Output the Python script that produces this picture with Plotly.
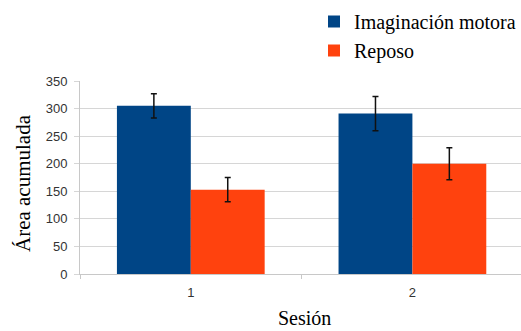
import plotly.graph_objects as go

# Session labels and mean accumulated area per condition, with error margins
sessions = ["1", "2"]
motor_imagery = [305, 291]
motor_imagery_err = [22, 31]
rest = [153, 200]
rest_err = [22, 29]

y_ticks = [0, 50, 100, 150, 200, 250, 300, 350]

BLUE = "#004586"
ORANGE = "#ff420e"
GRID = "#d6d6d6"
SERIF = "Liberation Serif, Times New Roman, serif"
SANS = "Liberation Sans, Arial, sans-serif"

fig = go.Figure()
fig.add_trace(go.Bar(
    name="Imaginación motora", x=sessions, y=motor_imagery,
    marker=dict(color=BLUE, line=dict(width=0)),
    error_y=dict(type="data", array=motor_imagery_err, color="#111111",
                 thickness=1.5, width=3),
))
fig.add_trace(go.Bar(
    name="Reposo", x=sessions, y=rest,
    marker=dict(color=ORANGE, line=dict(width=0)),
    error_y=dict(type="data", array=rest_err, color="#111111",
                 thickness=1.5, width=3),
))

W, H = 521, 331
ML, MR, MT, MB = 80, 0, 81, 57
pw = W - ML - MR
ph = H - MT - MB

fig.update_layout(
    width=W, height=H,
    margin=dict(l=ML, r=MR, t=MT, b=MB, pad=0),
    paper_bgcolor="white", plot_bgcolor="white",
    barmode="group", bargap=1/3, bargroupgap=0,
    font=dict(family=SANS, size=13, color="#333333"),
    showlegend=True,
    legend=dict(
        x=(314 - ML) / pw, y=1 + (MT - 2) / ph,
        xanchor="left", yanchor="top",
        font=dict(family=SERIF, size=20, color="#000000"),
        bgcolor="rgba(0,0,0,0)", borderwidth=0,
        itemwidth=30, tracegroupgap=4,
    ),
    xaxis=dict(
        type="category", range=[-0.5, 1.49],
        showgrid=False, showline=True, linecolor="#c8c8c8", linewidth=1,
        ticks="outside", tickson="boundaries", ticklen=4, tickcolor="#c8c8c8",
        tickfont=dict(family=SANS, size=13, color="#333333"),
        ticklabelstandoff=6,
        zeroline=False,
    ),
    yaxis=dict(
        range=[0, 350], tickvals=y_ticks,
        showgrid=True, gridcolor=GRID, gridwidth=1,
        showline=True, linecolor="#c8c8c8", linewidth=1,
        ticks="outside", ticklen=5, tickcolor=GRID,
        tickfont=dict(family=SANS, size=13, color="#333333"),
        ticklabelstandoff=4,
        zeroline=False,
    ),
    annotations=[
        dict(text="Área acumulada", textangle=-90,
             xref="paper", yref="paper",
             x=(23 - ML) / pw, y=1 - (183 - MT) / ph,
             xanchor="center", yanchor="middle", showarrow=False,
             font=dict(family=SERIF, size=21, color="#000000")),
        dict(text="Sesión",
             xref="paper", yref="paper",
             x=(304 - ML) / pw, y=1 - (331 - MT) / ph,
             xanchor="center", yanchor="bottom", showarrow=False,
             font=dict(family=SERIF, size=20, color="#000000")),
    ],
)

fig.write_html("out.html")
